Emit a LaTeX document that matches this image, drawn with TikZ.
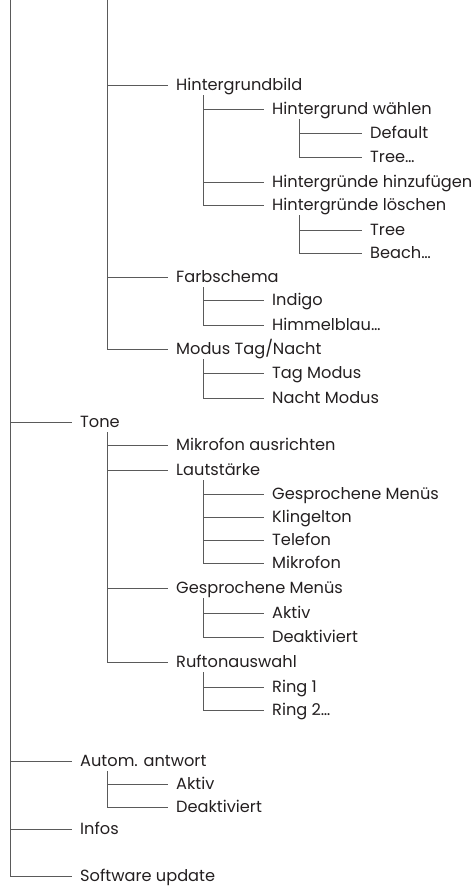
\documentclass[tikz,border=0pt]{standalone}
\usepackage{fontspec}
\setmainfont{Poppins}
\definecolor{linegray}{RGB}{90,90,90}
\definecolor{textgray}{RGB}{35,31,32}
\tikzset{
  item/.style={anchor=west, inner xsep=0pt, inner ysep=5pt, text height=10pt, text depth=0pt,
    text=textgray, font=\fontsize{16.2}{19}\selectfont},
  conn/.style={draw=linegray, line width=0.9pt}
}
\begin{document}
\begin{tikzpicture}[x=1pt, y=-1pt]
	\useasboundingbox (0,0) rectangle (474,886);
	\coordinate (top0) at (10,0);
	\coordinate (top1) at (107,0);
	% Hintergrundbild
	\node[item] (bild) at (176,85) {Hintergrundbild};
	\node[item] (waehlen) at (272,109) {Hintergrund wählen};
	\node[item] (default) at (370,133) {Default};
	\node[item] (tree) at (370,157) {Tree…};
	\node[item] (hinzu) at (272,182) {Hintergründe hinzufügen};
	\node[item] (loeschen) at (272,205) {Hintergründe löschen};
	\node[item] (tree2) at (370,230) {Tree};
	\node[item] (beach) at (370,253) {Beach…};
	% Farbschema, Modus
	\node[item] (farb) at (176,277) {Farbschema};
	\node[item] (indigo) at (272,300) {Indigo};
	\node[item] (himmel) at (272,325) {Himmelblau…};
	\node[item] (modus) at (176,349) {Modus Tag/Nacht};
	\node[item] (tag) at (272,373) {Tag Modus};
	\node[item] (nacht) at (272,398) {Nacht Modus};
	% Tone
	\node[item] (tone) at (80,422) {Tone};
	\node[item] (mikro) at (176,445) {Mikrofon ausrichten};
	\node[item] (laut) at (176,470) {Lautstärke};
	\node[item] (menues) at (272,494) {Gesprochene Menüs};
	\node[item] (klingel) at (272,517) {Klingelton};
	\node[item] (telefon) at (272,540) {Telefon};
	\node[item] (mikrofon) at (272,563) {Mikrofon};
	\node[item] (gespr) at (176,588) {Gesprochene Menüs};
	\node[item] (aktiv) at (272,613) {Aktiv};
	\node[item] (deakt) at (272,637) {Deaktiviert};
	\node[item] (ruf) at (176,662) {Ruftonauswahl};
	\node[item] (ring1) at (272,687) {Ring 1};
	\node[item] (ring2) at (272,710) {Ring 2…};
	% rest
	\node[item] (autom) at (80,761) {Autom. antwort};
	\node[item] (aaktiv) at (176,784) {Aktiv};
	\node[item] (adeakt) at (176,807) {Deaktiviert};
	\node[item] (infos) at (80,829) {Infos};
	\node[item] (update) at (80,876) {Software update};
	% trunks below the parents
	\foreach \p in {bild,waehlen,loeschen,farb,modus,tone,laut,gespr,ruf,autom}
		\coordinate (\p-t) at ([xshift=27pt]\p.south west);
	% branches
	\foreach \p/\c in {top0/tone,top0/autom,top0/infos,top0/update,top1/bild,top1/farb,top1/modus,
		bild-t/waehlen,bild-t/hinzu,bild-t/loeschen,waehlen-t/default,waehlen-t/tree,
		loeschen-t/tree2,loeschen-t/beach,farb-t/indigo,farb-t/himmel,modus-t/tag,modus-t/nacht,
		tone-t/mikro,tone-t/laut,tone-t/gespr,tone-t/ruf,laut-t/menues,laut-t/klingel,
		laut-t/telefon,laut-t/mikrofon,gespr-t/aktiv,gespr-t/deakt,ruf-t/ring1,ruf-t/ring2,
		autom-t/aaktiv,autom-t/adeakt}
		\draw[conn] (\p) |- ([xshift=-8pt]\c.west);
\end{tikzpicture}
\end{document}
